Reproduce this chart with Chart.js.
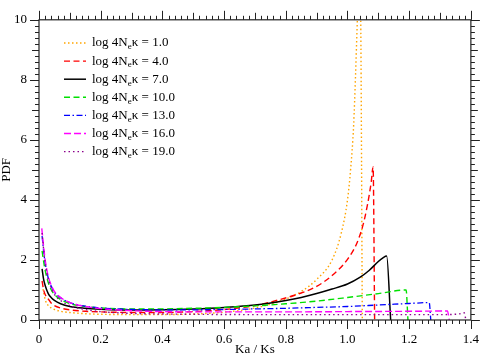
<!DOCTYPE html>
<html>
<head>
<meta charset="utf-8">
<script src="https://cdn.jsdelivr.net/npm/chart.js@4.4.0/dist/chart.umd.min.js"></script>
<style>
  html, body { margin: 0; padding: 0; background: #fff; }
  #wrap { width: 491px; height: 356px; }
</style>
</head>
<body>
<div id="wrap"><canvas id="Chart"></canvas></div>
<script>
// series labels (log 4Ne kappa)
const kappaLabels = ['1.0', '4.0', '7.0', '10.0', '13.0', '16.0', '19.0'];

// Ka/Ks values and PDF values, one pair per curve
const x1 = [0.013,0.02,0.03,0.04,0.05,0.07,0.1,0.15,0.2,0.3,0.4,0.5,0.6,0.7,0.8,0.85,0.9,0.95,0.98,1.0,1.01,1.02,1.032,1.038,1.043,1.048];
const y1 = [1.03,0.68,0.48,0.4,0.35,0.29,0.25,0.21,0.19,0.18,0.18,0.2,0.26,0.4,0.7,0.95,1.35,2.0,2.9,4.0,5.0,6.5,10,12,10,0];

const x4 = [0.01,0.015,0.02,0.03,0.04,0.05,0.07,0.1,0.15,0.2,0.3,0.4,0.5,0.6,0.7,0.78,0.85,0.9,0.95,1.0,1.03,1.05,1.065,1.077,1.083,1.088];
const y4 = [1.3,1.0,0.85,0.7,0.56,0.48,0.4,0.34,0.29,0.27,0.25,0.25,0.28,0.35,0.48,0.68,0.9,1.12,1.48,2.02,2.55,3.15,3.85,4.6,5.1,0];

const x7 = [0.01,0.015,0.02,0.03,0.04,0.05,0.07,0.1,0.15,0.2,0.3,0.4,0.5,0.6,0.7,0.8,0.85,0.9,0.95,1.0,1.04,1.07,1.1,1.115,1.127,1.14];
const y7 = [1.7,1.35,1.15,0.88,0.74,0.65,0.54,0.45,0.39,0.36,0.33,0.34,0.37,0.42,0.5,0.65,0.75,0.88,1.03,1.2,1.42,1.65,1.95,2.07,2.13,0];

const x10 = [0.01,0.015,0.02,0.03,0.04,0.05,0.07,0.1,0.15,0.2,0.3,0.4,0.5,0.6,0.7,0.8,0.9,1.0,1.1,1.19,1.196];
const y10 = [2.3,1.95,1.65,1.25,1.0,0.85,0.68,0.55,0.45,0.4,0.37,0.37,0.39,0.42,0.47,0.54,0.63,0.75,0.88,1.0,0];

const x13 = [0.01,0.015,0.02,0.03,0.04,0.05,0.07,0.1,0.15,0.2,0.3,0.4,0.5,0.6,0.7,0.8,0.9,1.0,1.1,1.2,1.265,1.27];
const y13 = [2.8,2.3,1.9,1.4,1.12,0.93,0.74,0.58,0.46,0.4,0.35,0.34,0.34,0.35,0.37,0.39,0.42,0.45,0.5,0.55,0.58,0];

const x16 = [0.009,0.015,0.02,0.03,0.04,0.05,0.07,0.1,0.15,0.2,0.3,0.4,0.5,0.6,0.8,1.0,1.2,1.324,1.33];
const y16 = [3.05,2.45,2.0,1.45,1.15,0.95,0.75,0.58,0.45,0.38,0.31,0.28,0.27,0.27,0.27,0.28,0.29,0.3,0];

const x19 = [0.01,0.015,0.02,0.03,0.04,0.05,0.07,0.1,0.15,0.2,0.3,0.4,0.5,0.7,0.9,1.1,1.3,1.36,1.378,1.384];
const y19 = [2.9,2.35,1.9,1.35,1.05,0.85,0.65,0.48,0.35,0.28,0.22,0.2,0.19,0.18,0.18,0.18,0.18,0.2,0.24,0];

const xTicksMajor = [0, 0.2, 0.4, 0.6, 0.8, 1, 1.2, 1.4];
const yTicksMajor = [0, 2, 4, 6, 8, 10];

const allX = [x1, x4, x7, x10, x13, x16, x19];
const allY = [y1, y4, y7, y10, y13, y16, y19];
const colors = ['#FFA500', '#FF0000', '#000000', '#00E000', '#0000FF', '#FF00FF', '#8B008B'];
const dashes = [[1.5, 2.5], [6, 3.5], [], [6, 3.5], [6, 2.5, 1.5, 2.5], [7, 3], [1.5, 3]];
const widths = [1.4, 1.4, 1.5, 1.4, 1.3, 1.4, 1.4];

const serif = "'Liberation Serif', 'DejaVu Serif', serif";

const datasets = allX.map(function(xs, i) {
    return {
        label: 'log 4Neκ = ' + kappaLabels[i],
        data: xs.map(function(v, j) { return {x: v, y: allY[i][j]}; }),
        borderColor: colors[i],
        borderDash: dashes[i],
        borderWidth: widths[i],
        pointRadius: 0,
        fill: false,
        cubicInterpolationMode: 'monotone',
        order: 7 - i
    };
});

// frame + outward ticks on all four sides
const frameTicks = {
    id: 'frameTicks',
    afterDraw(chart) {
        const ctx = chart.ctx;
        const a = chart.chartArea;
        const sx = chart.scales.x, sy = chart.scales.y;
        ctx.save();
        ctx.strokeStyle = '#222';
        ctx.lineWidth = 1.2;
        ctx.strokeRect(a.left, a.top, a.right - a.left, a.bottom - a.top);
        ctx.lineWidth = 1;
        ctx.beginPath();
        for (let i = 0; i <= 70; i++) {
            const px = Math.round(sx.getPixelForValue(i * 0.02)) + 0.5;
            const len = i % 10 === 0 ? 9 : (i % 5 === 0 ? 7 : 4);
            ctx.moveTo(px, a.bottom); ctx.lineTo(px, a.bottom + len);
            ctx.moveTo(px, a.top); ctx.lineTo(px, a.top - len);
        }
        for (let i = 0; i <= 50; i++) {
            const py = Math.round(sy.getPixelForValue(i * 0.2)) + 0.5;
            const len = i % 10 === 0 ? 9 : (i % 5 === 0 ? 7 : 4);
            ctx.moveTo(a.left - len, py); ctx.lineTo(a.left, py);
            ctx.moveTo(a.right, py); ctx.lineTo(a.right + len, py);
        }
        ctx.stroke();
        ctx.restore();
    }
};

// legend with subscript e
const subLegend = {
    id: 'subLegend',
    afterDraw(chart) {
        const ctx = chart.ctx;
        ctx.save();
        chart.data.datasets.forEach(function(ds, i) {
            const yRow = 43 + i * 18.1;
            ctx.strokeStyle = ds.borderColor;
            ctx.lineWidth = ds.borderWidth;
            ctx.setLineDash(ds.borderDash);
            ctx.beginPath();
            ctx.moveTo(64, yRow); ctx.lineTo(86, yRow);
            ctx.stroke();
            ctx.setLineDash([]);
            ctx.fillStyle = '#000';
            ctx.textBaseline = 'middle';
            ctx.font = '13px ' + serif;
            let tx = 92;
            ctx.fillText('log 4N', tx, yRow);
            tx += ctx.measureText('log 4N').width;
            ctx.font = '9px ' + serif;
            ctx.fillText('e', tx, yRow + 4);
            tx += ctx.measureText('e').width;
            ctx.font = '13px ' + serif;
            ctx.fillText('κ = ' + kappaLabels[i], tx, yRow);
        });
        ctx.restore();
    }
};

const chart = new Chart(document.getElementById('Chart').getContext('2d'), {
    type: 'line',
    data: { datasets: datasets },
    options: {
        responsive: true,
        maintainAspectRatio: false,
        animation: false,
        layout: { padding: { top: 10, right: 11, left: 0, bottom: 0 } },
        plugins: {
            legend: { display: false },
            tooltip: { enabled: false }
        },
        scales: {
            x: {
                type: 'linear',
                min: 0,
                max: 1.4,
                grid: { display: false, drawTicks: false },
                border: { display: false },
                afterFit: function(s) { s.height = 36; },
                afterBuildTicks: function(s) { s.ticks = xTicksMajor.map(function(v) { return {value: v}; }); },
                ticks: { padding: 12, color: '#000', font: { family: serif, size: 13 }, maxRotation: 0 },
                title: { display: true, text: 'Ka / Ks', color: '#000', font: { family: serif, size: 13, lineHeight: 1 }, padding: 0 }
            },
            y: {
                min: 0,
                max: 10,
                grid: { display: false, drawTicks: false },
                border: { display: false },
                afterFit: function(s) { s.width = 39; },
                afterBuildTicks: function(s) { s.ticks = yTicksMajor.map(function(v) { return {value: v}; }); },
                ticks: { padding: 12, color: '#000', font: { family: serif, size: 13 } },
                title: { display: true, text: 'PDF', color: '#000', font: { family: serif, size: 13, lineHeight: 1 }, padding: 0 }
            }
        }
    },
    plugins: [frameTicks, subLegend]
});
</script>
</body>
</html>
